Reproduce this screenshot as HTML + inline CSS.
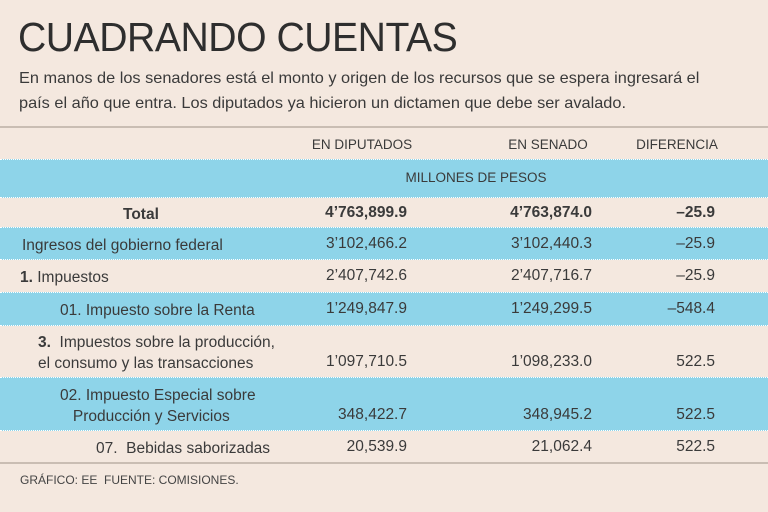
<!DOCTYPE html>
<html><head><meta charset="utf-8"><style>
body{margin:0;width:768px;height:512px;background:#f4e8df;font-family:"Liberation Sans",sans-serif;color:#333;position:relative;overflow:hidden}
.a{position:absolute;white-space:nowrap}
.row{position:absolute;left:0;width:768px;border-top:1px dotted #fff}
.b{background:#8ed4e9}
.t{font-size:15px;color:#3a3a3a}
.r{text-align:right}
.c{text-align:center}
</style></head><body>
<div class="a" style="left:18px;top:14px;font-size:41px;letter-spacing:-0.5px;color:#2e2e2e;font-weight:300;transform:scaleX(0.955);transform-origin:left">CUADRANDO CUENTAS</div>
<div class="a" style="left:19px;top:66px;font-size:16px;line-height:25px;color:#3a3a3a;transform:scaleX(1.02);transform-origin:left">En manos de los senadores está el monto y origen de los recursos que se espera ingresará el<br>país el año que entra. Los diputados ya hicieron un dictamen que debe ser avalado.</div>
<div class="a" style="left:0;top:126px;width:768px;border-top:2px solid #c9bdb3"></div>
<div class="a t c" style="left:292px;top:137px;width:140px;font-size:13.5px">EN DIPUTADOS</div>
<div class="a t c" style="left:478px;top:137px;width:140px;font-size:13.5px">EN SENADO</div>
<div class="a t c" style="left:607px;top:137px;width:140px;font-size:13.5px">DIFERENCIA</div>
<div class="row b" style="top:159px;height:38px"><div class="a t c" style="left:376px;top:10px;width:200px;font-size:13.5px">MILLONES DE PESOS</div></div>
<div id="rows"></div>
<div class="a" style="left:0;top:462px;width:768px;border-top:2px solid #c9bdb3"></div>
<div class="a" style="left:20px;top:473px;font-size:12px;color:#444">GRÁFICO: EE &nbsp;FUENTE: COMISIONES.</div>
<script>
const labels=["<b>Total</b>","Ingresos del gobierno federal","<b>1.</b> Impuestos","01. Impuesto sobre la Renta","<b>3.</b>&nbsp; Impuestos sobre la producción,<br>el consumo y las transacciones","02. Impuesto Especial sobre<br>&nbsp;&nbsp;&nbsp;Producción y Servicios","07.&nbsp; Bebidas saborizadas"];
const diputados=["4’763,899.9","3’102,466.2","2’407,742.6","1’249,847.9","1’097,710.5","348,422.7","20,539.9"];
const senado=["4’763,874.0","3’102,440.3","2’407,716.7","1’249,299.5","1’098,233.0","348,945.2","21,062.4"];
const diferencia=["–25.9","–25.9","–25.9","–548.4","522.5","522.5","522.5"];
const tops=[197,227,259,292,325,377,430,463];
const lefts=[123,22,20,60,38,60,96];
const c=document.getElementById('rows');
for(let i=0;i<labels.length;i++){
 const r=document.createElement('div');
 r.className='row'+(i%2?' b':'');
 
 
 const h=tops[i+1]-tops[i];
 r.style.top=tops[i]+'px';r.style.height=h+'px';
 const bold=i==0?'font-weight:bold;':'';
 const two=labels[i].includes('<br>');
 const ty=two?(h-40)/2:(h-19)/2;
 const vy=two?h-25:ty;
 r.innerHTML=`<div class="a t" style="left:${lefts[i]}px;top:${ty}px;font-size:15.5px;line-height:21px">${labels[i]}</div>
 <div class="a t r" style="left:267px;width:140px;top:${vy}px;font-size:15.5px;${bold}">${diputados[i]}</div>
 <div class="a t r" style="left:452px;width:140px;top:${vy}px;font-size:15.5px;${bold}">${senado[i]}</div>
 <div class="a t r" style="left:575px;width:140px;top:${vy}px;font-size:15.5px;${bold}">${diferencia[i]}</div>`;
 c.appendChild(r);
}
</script>
</body></html>
